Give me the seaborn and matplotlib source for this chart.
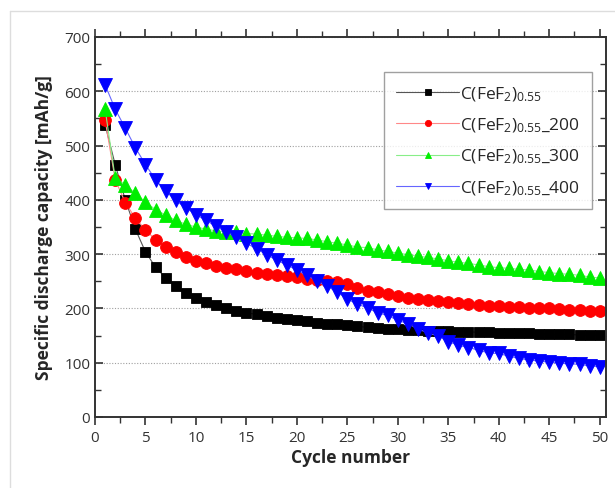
import numpy as np
import pandas as pd
import matplotlib
matplotlib.use("Agg")
import matplotlib.pyplot as plt
import seaborn as sns

# discharge capacity (mAh/g), cycles 1..50
cycles = list(range(1, 51))
cap_0 = [538, 465, 400, 346, 304, 276, 256, 241, 229, 220,
         212, 206, 201, 196, 192, 189, 186, 183, 181, 178,
         176, 174, 172, 171, 169, 167, 165, 164, 163, 162,
         161, 160, 159, 159, 158, 157, 157, 156, 156, 155,
         155, 154, 154, 153, 153, 152, 152, 151, 151, 151]
cap_200 = [547, 437, 395, 366, 345, 326, 314, 304, 294, 288,
           283, 278, 275, 272, 269, 266, 264, 262, 260, 257,
           255, 253, 251, 249, 245, 238, 233, 230, 226, 222,
           220, 218, 216, 214, 212, 210, 209, 207, 205, 204,
           203, 202, 201, 201, 200, 199, 198, 197, 196, 196]
cap_300 = [567, 440, 428, 412, 396, 382, 372, 362, 355, 350,
           346, 343, 341, 340, 338, 337, 335, 333, 331, 330,
           329, 326, 323, 320, 317, 313, 312, 308, 305, 302,
           299, 296, 294, 291, 288, 285, 283, 280, 277, 275,
           274, 272, 271, 268, 266, 264, 263, 261, 258, 256]
cap_400 = [612, 567, 532, 496, 465, 437, 416, 399, 385, 373,
           362, 351, 341, 331, 320, 310, 299, 289, 280, 271,
           261, 250, 241, 230, 217, 208, 201, 192, 187, 178,
           172, 162, 155, 149, 139, 132, 128, 123, 118, 117,
           112, 108, 105, 103, 101, 99, 98, 97, 94, 93]

labels = [r"C(FeF$_2$)$_{0.55}$",
          r"C(FeF$_2$)$_{0.55}$_200",
          r"C(FeF$_2$)$_{0.55}$_300",
          r"C(FeF$_2$)$_{0.55}$_400"]
colors = ["#000000", "#ff0000", "#00ee00", "#0000ff"]
line_colors = ["#555555", "#ff8888", "#88ee88", "#6666ff"]
markers = ["s", "o", "^", "v"]
msizes = [7.5, 8.5, 9.5, 9.5]

df = pd.concat([
    pd.DataFrame({"cycle": cycles, "cap": v, "sample": lab})
    for v, lab in zip([cap_0, cap_200, cap_300, cap_400], labels)
])

sns.set_style("ticks")
plt.rcParams["font.family"] = ["Open Sans", "DejaVu Sans"]
plt.rcParams["mathtext.fontset"] = "custom"
plt.rcParams["mathtext.rm"] = "Open Sans"
plt.rcParams["mathtext.it"] = "Open Sans:italic"
plt.rcParams["mathtext.bf"] = "Open Sans:bold"

fig = plt.figure(figsize=(6.15, 4.89), dpi=100)
ax = fig.add_axes([0.1545, 0.1452, 0.8305, 0.7771])

sns.lineplot(data=df, x="cycle", y="cap", hue="sample", style="sample",
             palette=dict(zip(labels, colors)), markers=dict(zip(labels, markers)),
             dashes=False, linewidth=0.8, markersize=7.5, markeredgewidth=0.6,
             ax=ax)
for line, c, lc, ms in zip(ax.lines, colors, line_colors, msizes):
    line.set_color(lc)
    line.set_markerfacecolor(c)
    line.set_markeredgecolor(c)
    line.set_markersize(ms)

ax.set_xlim(0, 50.6)
ax.set_ylim(0, 700)
ax.set_xticks(range(0, 51, 5))
ax.set_xticks(np.arange(2.5, 51, 5), minor=True)
ax.set_yticks(range(0, 701, 100))
ax.set_yticks(range(50, 700, 100), minor=True)
ax.yaxis.grid(True, which="major", linestyle=(0, (1, 1.5)), color="#a0a0a0", linewidth=0.8)
ax.set_axisbelow(True)

ax.tick_params(axis="both", which="both", top=True, right=True, labelsize=11,
               color="#333333", labelcolor="#333333")
ax.tick_params(axis="y", which="both", direction="in")
ax.tick_params(axis="x", which="both", direction="out")
ax.tick_params(which="major", length=6, width=1.2)
ax.tick_params(which="minor", length=4, width=1.0)
for sp in ax.spines.values():
    sp.set_linewidth(1.4)
    sp.set_color("#333333")

ax.set_xlabel("Cycle number", fontsize=12.5, fontweight="bold", labelpad=2)
ax.set_ylabel("Specific discharge capacity [mAh/g]", fontsize=12.5, fontweight="bold", labelpad=8)

handles, _ = ax.get_legend_handles_labels()
leg = ax.legend(handles, labels, loc="upper left", bbox_to_anchor=(0.566, 0.908),
                borderaxespad=0, fontsize=12.5, frameon=True, fancybox=False,
                handlelength=3.6, handletextpad=0.1, labelspacing=0.75,
                borderpad=0.7, edgecolor="#888888")
leg.get_frame().set_linewidth(1.0)
for h, c, lc in zip(leg.legend_handles, colors, line_colors):
    h.set_color(lc)
    h.set_markerfacecolor(c)
    h.set_markeredgecolor(c)
    h.set_markersize(4.5)

# thin gray frame around the picture
fig.add_artist(plt.Line2D([10 / 615, 10 / 615], [0, 1 - 12 / 489], transform=fig.transFigure,
                          color="#dddddd", linewidth=1))
fig.add_artist(plt.Line2D([10 / 615, 1], [1 - 12 / 489, 1 - 12 / 489], transform=fig.transFigure,
                          color="#dddddd", linewidth=1))

fig.savefig("out.png", dpi=100)
